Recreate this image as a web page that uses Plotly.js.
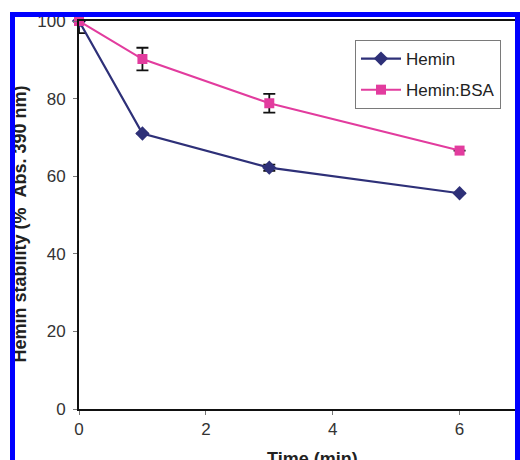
<!DOCTYPE html>
<html>
<head>
<meta charset="utf-8">
<script src="https://cdn.plot.ly/plotly-3.0.1.min.js"></script>
<style>
  html, body { margin: 0; padding: 0; width: 520px; height: 460px; overflow: hidden; background: #fff; }
  #chart { position: absolute; left: 0; top: 0; width: 560px; height: 480px; }
  #frame { position: absolute; left: 10px; top: 12px; width: 500px; height: 460px;
           border-left: 5px solid #0000ff; border-top: 5px solid #0000ff; border-right: 5px solid #0000ff;
           pointer-events: none; z-index: 10; }
</style>
</head>
<body>
<div id="chart"></div>
<div id="frame"></div>
<script>
// ---- data ----
const timeMin = [0, 1, 3, 6];
const hemin = [100, 71.0, 62.2, 55.6];
const heminErr = [3.1, 0, 0.8, 0];
const heminBSA = [100, 90.2, 78.8, 66.6];
const heminBSAErr = [0, 2.9, 2.4, 0];
const seriesNames = ['Hemin', 'Hemin:BSA'];
const xTicks = [0, 2, 4, 6];
const yTicks = [0, 20, 40, 60, 80, 100];
const xTitle = 'Time (min)';
const yTitle = 'Hemin stability (% &nbsp;Abs. 390 nm)';

const navy = '#2e3078';
const pink = '#e23c9e';

const traces = [
  {
    x: timeMin, y: hemin, name: seriesNames[0], legendgroup: 'a', type: 'scatter', mode: 'lines+markers',
    line: {color: navy, width: 2.2},
    marker: {symbol: 'diamond', size: 11, color: navy},
    error_y: {type: 'data', array: heminErr, visible: true, color: '#111', thickness: 1.8, width: 6},
    cliponaxis: false
  },
  {
    x: timeMin, y: heminBSA, name: seriesNames[1], legendgroup: 'b', type: 'scatter', mode: 'lines+markers',
    line: {color: pink, width: 2},
    marker: {symbol: 'square', size: 10, color: pink},
    error_y: {type: 'data', array: heminBSAErr, visible: true, color: '#111', thickness: 1.8, width: 6},
    cliponaxis: false
  }
];

const tickFont = {family: 'Liberation Sans, Arial, sans-serif', size: 17, color: '#333'};

const layout = {
  width: 560, height: 480,
  margin: {l: 79, r: 37, t: 21, b: 71},
  paper_bgcolor: '#fff', plot_bgcolor: '#fff',
  showlegend: true,
  legend: {
    x: 0.6216, y: 0.951, xanchor: 'left', yanchor: 'top',
    bgcolor: '#fff', bordercolor: '#7a7a7a', borderwidth: 1,
    font: {family: 'Liberation Sans, Arial, sans-serif', size: 17, color: '#222'},
    traceorder: 'grouped', tracegroupgap: 6, itemwidth: 40
  },
  xaxis: {
    range: [0, 7], tickvals: xTicks, ticktext: xTicks.map(String),
    showgrid: false, zeroline: false,
    showline: true, linecolor: '#111', linewidth: 2, mirror: true,
    ticks: 'outside', ticklen: 4, tickwidth: 1, tickcolor: '#777',
    tickfont: tickFont
  },
  yaxis: {
    range: [0, 100], tickvals: yTicks, ticktext: yTicks.map(String),
    showgrid: false, zeroline: false,
    showline: true, linecolor: '#111', linewidth: 2, mirror: true,
    ticks: 'outside', ticklen: 4, tickwidth: 1, tickcolor: '#777',
    ticklabelstandoff: 4,
    tickfont: tickFont
  },
  annotations: [
    {
      text: yTitle, xref: 'paper', yref: 'paper', x: -0.133, y: 0.478,
      xanchor: 'center', yanchor: 'middle', textangle: -90, showarrow: false,
      font: {family: 'Liberation Sans, Arial, sans-serif', size: 18, color: '#222', weight: 'bold'}
    },
    {
      text: xTitle, xref: 'paper', yref: 'paper', x: 0.527, y: -0.098,
      xanchor: 'center', yanchor: 'top', showarrow: false,
      font: {family: 'Liberation Sans, Arial, sans-serif', size: 18, color: '#222', weight: 'bold'}
    }
  ]
};

Plotly.newPlot('chart', traces, layout, {displayModeBar: false, staticPlot: true});
</script>
</body>
</html>
